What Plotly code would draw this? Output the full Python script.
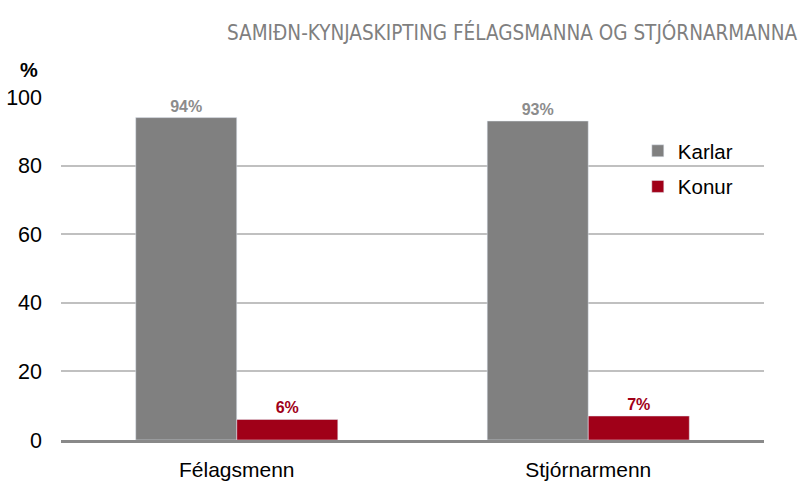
import plotly.graph_objects as go

categories = ["Félagsmenn", "Stjórnarmenn"]
karlar = [94, 93]
konur = [6, 7]
yticks = [0, 20, 40, 60, 80, 100]

fig = go.Figure()
fig.add_trace(go.Bar(name="Karlar", x=categories, y=karlar, legendgroup="k",
                     marker_color="#808080",
                     text=[f"{v}%" for v in karlar], textposition="outside",
                     textfont=dict(color="#8c8c8c", size=16, family="Liberation Sans"),
                     texttemplate="<b>%{text}</b>", cliponaxis=False))
fig.add_trace(go.Bar(name="Konur", x=categories, y=konur, legendgroup="w",
                     marker_color="#a00018",
                     text=[f"{v}%" for v in konur], textposition="outside",
                     textfont=dict(color="#a00018", size=16, family="Liberation Sans"),
                     texttemplate="<b>%{text}</b>", cliponaxis=False))

fig.update_layout(
    width=803, height=486,
    margin=dict(l=61, r=39, t=97, b=46, autoexpand=False),
    plot_bgcolor="white", paper_bgcolor="white",
    barmode="group", bargap=0.425, bargroupgap=0,
    font=dict(family="Liberation Sans", color="black", size=21),
    showlegend=True,
    legend=dict(x=0.8205, y=0.901, xanchor="left", yanchor="top",
                font=dict(size=20.5, color="black"), bgcolor="rgba(0,0,0,0)",
                tracegroupgap=6, itemwidth=30),
)
fig.update_yaxes(range=[0, 100], tickvals=yticks, showgrid=True,
                 gridcolor="#c0c0c0", gridwidth=2, zeroline=False,
                 showline=False, ticks="", ticklabelstandoff=18, automargin=False,
                 tickfont=dict(size=21.5, color="black"))
fig.update_xaxes(showline=True, linecolor="#898989", linewidth=3, automargin=False,
                 ticks="", ticklabelstandoff=9, tickfont=dict(size=21, color="black"))

fig.add_annotation(text="SAMIÐN-KYNJASKIPTING FÉLAGSMANNA OG STJÓRNARMANNA",
                   xref="paper", yref="paper", x=(799 - 61) / 703, y=1 + (97 - 33) / 343,
                   xanchor="right", yanchor="middle", showarrow=False,
                   font=dict(family="DejaVu Sans Condensed", size=20.5, color="#7f7f7f"))
fig.add_annotation(text="<b>%</b>",
                   xref="paper", yref="paper", x=(29 - 61) / 703, y=1 + (97 - 70) / 343,
                   xanchor="center", yanchor="middle", showarrow=False,
                   font=dict(size=20, color="black"))

fig.write_html("out.html", config={"displayModeBar": False},
               post_script="document.body.style.margin='0';")
